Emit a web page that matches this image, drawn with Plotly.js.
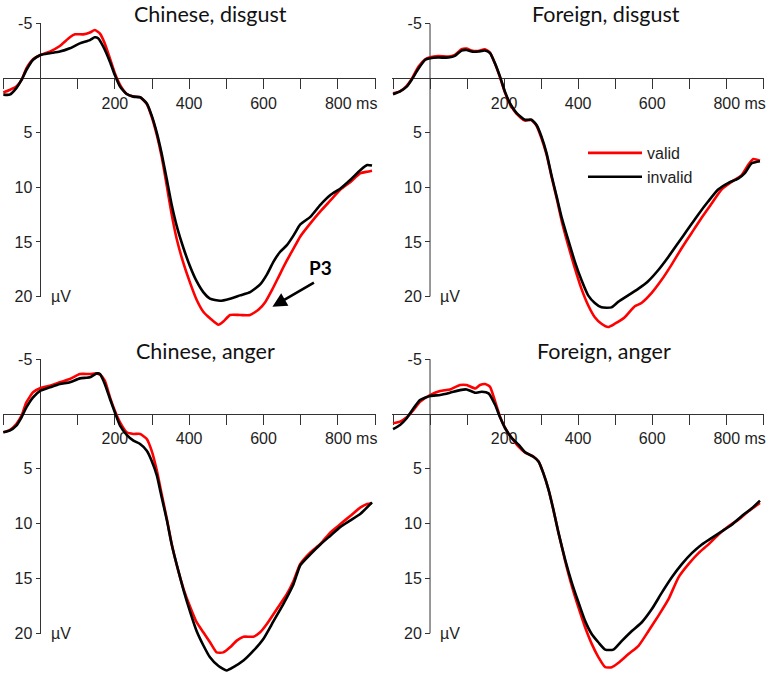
<!DOCTYPE html>
<html><head><meta charset="utf-8">
<script src="https://cdn.plot.ly/plotly-3.0.1.min.js"></script>
<style>html,body{margin:0;padding:0;background:#fff}#chart{width:771px;height:678px}</style>
</head><body><div id="chart"></div>
<script>
// ---------- data ----------
const panelTitles = ["Chinese, disgust", "Foreign, disgust", "Chinese, anger", "Foreign, anger"];
const seriesNames = ["valid", "invalid"];
const xTickVals = [-100, 0, 100, 200, 300, 400, 500, 600, 700, 800, 900];
const xTickText = ["", "", "", "200", "", "400", "", "600", "", "\u00a0\u00a0\u00a0\u00a0\u00a0\u00a0800 ms", ""];
const yTickVals = [-5, 5, 10, 15, 20];
const yTickText = ["-5", "5", "10", "15", "20"];
const unitLabel = "\u00b5V";
const peakLabel = "P3";

// Chinese, disgust
const tCdValid = [-100,-83,-65,-51,-38,-20,0,25,52,79,93,115,133,146,160,173,187,200,214,232,250,268,286,299,313,326,340,353,367,385,403,420,438,456,479,492,510,537,564,587,605,623,645,663,681,699,726,753,780,807,834,861,879,892];
const vCdValid = [1.3,1.07,0.76,0.15,-0.9,-1.74,-2.14,-2.45,-2.96,-3.76,-4.03,-4.03,-4.2,-4.43,-4.1,-3.2,-1.8,-0.46,0.6,1.44,1.68,1.74,2.35,3.5,5.2,7.2,9.9,12.5,14.8,17.0,18.8,20.3,21.4,22.0,22.6,22.3,21.7,21.7,21.7,21.2,20.5,19.4,17.9,16.7,15.6,14.5,13.3,12.2,11.2,10.2,9.5,8.7,8.56,8.47];
const tCdInvalid = [-100,-83,-65,-51,-38,-20,0,25,52,79,106,133,146,155,169,187,200,214,232,250,268,286,299,313,326,340,353,367,385,403,420,438,456,483,510,537,564,591,609,627,645,663,681,699,726,753,780,807,834,861,879,892];
const vCdInvalid = [1.5,1.5,0.9,0.15,-0.76,-1.7,-2.14,-2.3,-2.45,-2.75,-3.2,-3.5,-3.76,-3.67,-2.9,-1.5,-0.3,0.76,1.44,1.68,1.74,2.3,3.4,5.0,6.9,9.3,11.6,13.6,15.6,17.3,18.6,19.6,20.2,20.4,20.2,19.9,19.6,18.9,18.0,16.8,15.9,15.3,14.4,13.4,12.7,11.6,10.7,10.1,9.3,8.4,7.95,8.0];

// Foreign, disgust
const tFdValid = [-100,-81,-63,-50,-31,-13,0,22,50,67,85,99,112,130,148,162,175,189,202,216,234,256,274,288,301,315,328,342,355,373,391,409,427,445,463,481,499,526,553,571,598,625,652,679,706,733,760,787,814,841,859,873,891];
const vFdValid = [1.38,1.2,0.7,0.09,-1.07,-1.74,-1.93,-2.05,-1.99,-2.14,-2.66,-2.72,-2.54,-2.5,-2.66,-2.35,-1.38,-0.09,1.28,2.35,3.27,3.88,3.82,4.37,5.5,7.03,9.0,11.0,13.0,15.3,17.4,19.3,20.8,21.9,22.5,22.8,22.5,21.9,20.9,20.6,19.7,18.5,17.1,15.6,14.2,12.8,11.5,10.2,9.5,8.9,7.95,7.4,7.55];
const tFdInvalid = [-100,-81,-63,-50,-31,-13,0,22,50,67,85,99,112,130,148,162,175,189,202,216,234,256,274,288,301,315,328,342,355,373,391,409,427,445,463,490,508,535,562,589,616,643,670,697,724,751,778,805,832,850,868,891];
const vFdInvalid = [1.47,1.2,0.76,0.15,-0.9,-1.7,-1.83,-1.9,-1.9,-2.05,-2.54,-2.6,-2.45,-2.45,-2.54,-2.3,-1.4,-0.15,1.2,2.3,3.2,3.8,3.8,4.3,5.35,6.9,8.9,10.85,12.7,14.8,16.8,18.5,19.9,20.6,21.0,21.0,20.5,19.9,19.3,18.6,17.6,16.4,15.1,13.8,12.5,11.3,10.2,9.6,9.2,8.7,7.8,7.6];

// Chinese, anger
const tCaValid = [-100,-83,-65,-51,-38,-20,0,25,52,79,106,133,151,160,173,187,200,214,232,250,268,286,299,313,326,340,353,367,385,403,420,438,456,474,492,510,528,546,573,591,609,636,663,681,699,726,753,780,807,834,861,879,892];
const vCaValid = [1.67,1.46,0.91,0.15,-1.06,-1.98,-2.37,-2.58,-2.89,-3.19,-3.65,-3.65,-3.71,-3.59,-3.04,-1.52,-0.3,0.76,1.67,1.82,1.82,2.28,3.35,5.17,7.3,9.58,11.86,13.84,15.97,17.64,19.0,19.92,20.83,21.75,21.75,21.29,20.68,20.32,20.32,19.92,19.16,17.79,16.42,15.21,13.69,12.62,11.86,10.8,10.04,9.28,8.52,8.21,8.15];
const tCaInvalid = [-100,-83,-65,-51,-38,-20,0,25,52,79,106,133,151,160,173,187,200,214,232,250,268,286,299,313,326,340,353,367,385,403,420,438,456,479,501,519,546,573,600,627,654,681,699,726,753,780,807,834,861,892];
const vCaInvalid = [1.67,1.52,1.06,0.3,-0.6,-1.52,-2.13,-2.43,-2.74,-2.9,-3.25,-3.35,-3.7,-3.65,-2.74,-1.37,-0.15,1.06,1.9,2.43,2.74,3.35,4.26,5.6,7.6,9.7,11.9,13.8,16.1,18.1,19.8,21.1,22.2,23.0,23.4,23.1,22.5,21.6,20.5,18.9,17.3,15.5,13.8,12.8,11.9,11.1,10.3,9.7,9.1,8.06];

// Foreign, anger
const tFaValid = [-100,-81,-63,-45,-27,0,27,54,81,99,122,135,149,162,176,189,203,221,239,257,279,293,306,320,333,347,365,383,401,419,437,455,473,491,509,536,563,590,617,644,671,698,725,752,779,806,833,860,891];
const vFaValid = [0.85,0.7,0.3,-0.36,-1.12,-1.73,-2.09,-2.24,-2.64,-2.64,-2.33,-2.64,-2.73,-2.48,-1.12,0.24,1.3,2.21,2.97,3.52,3.88,4.33,5.39,6.91,8.73,10.85,13.42,15.7,17.67,19.48,21.0,22.2,23.1,23.1,22.7,21.9,21.15,19.8,18.4,16.9,14.9,13.7,12.7,11.9,11.0,10.24,9.64,8.88,8.12];
const tFaInvalid = [-100,-81,-63,-45,-27,0,27,54,81,99,122,140,158,176,189,203,221,239,257,279,293,306,320,333,347,365,383,401,419,437,455,473,495,518,545,572,599,626,653,680,707,734,761,788,815,842,869,891];
const vFaInvalid = [1.39,1.0,0.39,-0.5,-1.27,-1.64,-1.73,-1.94,-2.18,-2.24,-1.94,-2.03,-1.88,-0.82,0.3,1.3,2.2,2.8,3.5,3.9,4.33,5.4,6.9,8.7,10.85,13.3,15.4,17.2,18.9,20.1,20.85,21.5,21.5,20.7,19.8,19.0,17.8,16.3,14.9,13.7,12.7,11.9,11.3,10.7,10.1,9.3,8.6,7.9];

// ---------- layout geometry ----------
const W = 771, H = 678;
const fx = p => p / W;
const fy = p => 1 - p / H;
const RED = '#ff0000', BLACK = '#000000', AXIS = '#333333', TXT = '#1e1e1e';
const tickFont = {family: 'Liberation Sans, Arial, sans-serif', size: 16, color: TXT};
const titleFont = {family: 'Lato, Open Sans, sans-serif', size: 21.5, color: '#111'};

const panels = [
  {xa: 'x',  ya: 'y',  xpx: [2.59, 375.74],   ypx: [0, 335],   yr: [23.533, -7.178], x0: 40.5,  y0: 78.3, tx: 210.8, ty: 0, tanchor: 'top',
   data: [[tCdValid, vCdValid], [tCdInvalid, vCdInvalid]]},
  {xa: 'x2', ya: 'y2', xpx: [392.26, 764.04], ypx: [0, 335],   yr: [23.533, -7.178], x0: 430.0, y0: 78.3, tx: 606, ty: 0, tanchor: 'top',
   data: [[tFdValid, vFdValid], [tFdInvalid, vFdInvalid]]},
  {xa: 'x3', ya: 'y3', xpx: [2.59, 375.74],   ypx: [335, 678], yr: [24.088, -7.208], x0: 40.5,  y0: 414,  tx: 205, ty: 351, tanchor: 'middle',
   data: [[tCaValid, vCaValid], [tCaInvalid, vCaInvalid]]},
  {xa: 'x4', ya: 'y4', xpx: [392.26, 764.04], ypx: [335, 678], yr: [24.088, -7.208], x0: 430.0, y0: 414,  tx: 603.5, ty: 351, tanchor: 'middle',
   data: [[tFaValid, vFaValid], [tFaInvalid, vFaInvalid]]}
];

const traces = [];
const layout = {
  width: W, height: H,
  margin: {l: 0, r: 0, t: 0, b: 0},
  paper_bgcolor: '#fff', plot_bgcolor: 'rgba(0,0,0,0)',
  showlegend: true,
  legend: {x: fx(583), y: fy(136), xanchor: 'left', yanchor: 'top',
           font: {family: 'Liberation Sans, Arial, sans-serif', size: 16, color: TXT},
           bgcolor: 'rgba(0,0,0,0)', borderwidth: 0, itemwidth: 54, tracegroupgap: 0},
  shapes: [], annotations: []
};
const colors = [RED, BLACK];

panels.forEach((p, i) => {
  const xKey = 'xaxis' + (i ? i + 1 : '');
  const yKey = 'yaxis' + (i ? i + 1 : '');
  layout[xKey] = {
    domain: [fx(p.xpx[0]), fx(p.xpx[1])], range: [-102, 902],
    anchor: 'free', position: fy(p.y0),
    showline: true, linecolor: AXIS, linewidth: 1,
    ticks: 'outside', ticklen: 10, tickwidth: 1, tickcolor: AXIS,
    tickmode: 'array', tickvals: xTickVals, ticktext: xTickText, tickangle: 0,
    tickfont: tickFont, showgrid: false, zeroline: false, layer: 'below traces', fixedrange: true
  };
  layout[yKey] = {
    domain: [fy(p.ypx[1]), fy(p.ypx[0])], range: p.yr,
    anchor: 'free', position: fx(p.x0),
    showline: false,
    ticks: 'outside', ticklen: 5, tickwidth: 1, tickcolor: AXIS,
    tickmode: 'array', tickvals: yTickVals, ticktext: yTickText,
    tickfont: tickFont, showgrid: false, zeroline: false, layer: 'below traces', fixedrange: true
  };
  p.data.forEach((d, k) => {
    traces.push({
      type: 'scatter', mode: 'lines', x: d[0], y: d[1],
      xaxis: p.xa, yaxis: p.ya, name: seriesNames[k], legendgroup: seriesNames[k],
      showlegend: i === 0,
      line: {color: colors[k], width: 2.6, shape: 'spline', smoothing: 0.5},
      hoverinfo: 'skip'
    });
  });
  // vertical axis line from -5 to 20 at t = 0
  layout.shapes.push({type: 'line', xref: p.xa, yref: p.ya, x0: 0, x1: 0,
    y0: yTickVals[0], y1: yTickVals[yTickVals.length - 1], line: {color: AXIS, width: 1}, layer: 'below'});
  layout.annotations.push({xref: 'paper', yref: 'paper', x: fx(p.tx), y: fy(p.ty),
    xanchor: 'center', yanchor: p.tanchor, borderpad: 0, text: panelTitles[i], showarrow: false, font: titleFont});
  layout.annotations.push({xref: p.xa, yref: p.ya, x: 0, y: yTickVals[yTickVals.length - 1],
    xshift: 8, xanchor: 'left', yanchor: 'middle', text: unitLabel, showarrow: false, font: tickFont});
});

// P3 label and arrow (top-left panel)
layout.annotations.push({xref: 'x', yref: 'y', x: 753, y: 17.39, xanchor: 'center', yanchor: 'middle',
  text: '<b>' + peakLabel + '</b>', showarrow: false,
  font: {family: 'Lato, Open Sans, sans-serif', size: 19, color: '#000'}});
layout.annotations.push({xref: 'x', yref: 'y', x: 624, y: 20.94, ax: 43, ay: -25, text: '',
  showarrow: true, arrowhead: 2, arrowsize: 1.1, arrowwidth: 2.6, arrowcolor: '#000', standoff: 0});

Plotly.newPlot('chart', traces, layout, {staticPlot: true, displayModeBar: false});
</script>
</body></html>
